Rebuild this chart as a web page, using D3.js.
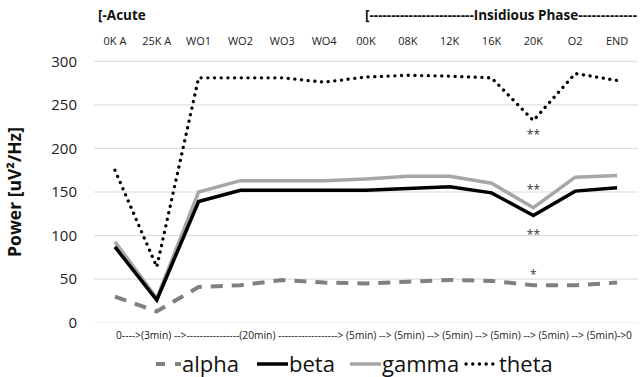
<!DOCTYPE html>
<html>
<head>
<meta charset="utf-8">
<script src="https://cdn.jsdelivr.net/npm/d3@7"></script>
<style>
  body { margin: 0; background: #fff; }
  svg { font-family: "Open Sans", "Noto Sans", sans-serif; }
</style>
</head>
<body>
<div id="chart"></div>
<script>
const categories = ['0K A', '25K A', 'WO1', 'WO2', 'WO3', 'WO4', '00K', '08K', '12K', '16K', '20K', 'O2', 'END'];
const alpha = [30, 13, 41, 43, 49, 46, 45, 47, 49, 48, 43, 43, 46];
const beta = [87, 26, 139, 152, 152, 152, 152, 154, 156, 149, 123, 151, 155];
const gamma = [93, 28, 150, 163, 163, 163, 165, 168, 168, 160, 132, 167, 169];
const theta = [175, 64, 281, 281, 281, 276, 282, 284, 283, 281, 232, 286, 278];
const yTicks = [0, 50, 100, 150, 200, 250, 300];
// significance marks at 20K: [value, text]
const marks = [[221, '**'], [157, '**'], [106, '**'], [60, '*']];

const width = 641;
const height = 377;

const svg = d3.select('#chart')
  .append('svg')
  .attr('width', width)
  .attr('height', height);

const x = d3.scaleBand().domain(categories).range([94, 638]);
const y = d3.scaleLinear().domain([0, 300]).range([322.7, 61.3]);
const cx = d => x(d) + x.bandwidth() / 2;

// grid lines
svg.selectAll('.grid')
  .data(yTicks)
  .enter()
  .append('line')
  .attr('x1', 94)
  .attr('x2', 638)
  .attr('y1', d => y(d))
  .attr('y2', d => y(d))
  .attr('stroke', d => d === 0 ? '#ececec' : '#d9d9d9')
  .attr('stroke-width', 1);

// y tick labels
svg.selectAll('.ytick')
  .data(yTicks)
  .enter()
  .append('text')
  .attr('x', 77)
  .attr('y', d => y(d))
  .attr('dy', '0.35em')
  .attr('text-anchor', 'end')
  .attr('font-size', 15)
  .attr('fill', '#222')
  .text(d => d);

// y axis title
svg.append('text')
  .attr('transform', 'translate(21,192) rotate(-90)')
  .attr('text-anchor', 'middle')
  .attr('font-size', 17.5)
  .attr('font-weight', 'bold')
  .attr('fill', '#111')
  .text('Power [uV²/Hz]');

// category labels at top
svg.selectAll('.cat')
  .data(categories)
  .enter()
  .append('text')
  .attr('x', d => cx(d))
  .attr('y', 45)
  .attr('text-anchor', 'middle')
  .attr('font-size', 11)
  .attr('fill', '#222')
  .text(d => d);

svg.append('text')
  .attr('x', 98)
  .attr('y', 20)
  .attr('font-size', 13.5)
  .attr('font-weight', 'bold')
  .attr('fill', '#111')
  .text('[-Acute');

const phase = svg.append('text')
  .attr('x', 365)
  .attr('y', 20)
  .attr('font-size', 13.5)
  .attr('font-weight', 'bold')
  .attr('fill', '#111')
  .text('[------------------------Insidious Phase');

// trailing dashes run to the right edge
const phaseEnd = 365 + phase.node().getComputedTextLength();
svg.append('text')
  .attr('x', phaseEnd)
  .attr('y', 20)
  .attr('font-size', 13.5)
  .attr('font-weight', 'bold')
  .attr('textLength', 637 - phaseEnd)
  .attr('lengthAdjust', 'spacing')
  .attr('fill', '#111')
  .text('-------------');

// time axis text at bottom
svg.append('text')
  .attr('x', 116)
  .attr('y', 339)
  .attr('font-size', 10.3)
  .attr('textLength', 516)
  .attr('lengthAdjust', 'spacingAndGlyphs')
  .attr('fill', '#222')
  .text('0---->(3min) -->----------------(20min) ------------------> (5min) --> (5min) --> (5min) --> (5min) --> (5min) --> (5min)->0');

const series = [
  { name: 'alpha', values: alpha, color: '#808080', width: 4, dash: '12 9', cap: 'butt' },
  { name: 'beta', values: beta, color: '#000', width: 3.5, dash: null, cap: 'butt' },
  { name: 'gamma', values: gamma, color: '#a6a6a6', width: 3.5, dash: null, cap: 'butt' },
  { name: 'theta', values: theta, color: '#000', width: 3.3, dash: '0.1 6.6', cap: 'round' }
];

const line = d3.line()
  .x((d, i) => cx(categories[i]))
  .y(d => y(d));

// draw gamma under beta so the black line sits on top
const drawOrder = [series[0], series[2], series[1], series[3]];
svg.selectAll('.series')
  .data(drawOrder)
  .enter()
  .append('path')
  .attr('d', d => line(d.values))
  .attr('fill', 'none')
  .attr('stroke', d => d.color)
  .attr('stroke-width', d => d.width)
  .attr('stroke-dasharray', d => d.dash)
  .attr('stroke-linecap', d => d.cap)
  .attr('stroke-linejoin', 'miter');

// significance stars at 20K
svg.selectAll('.mark')
  .data(marks)
  .enter()
  .append('text')
  .attr('x', cx('20K'))
  .attr('y', d => y(d[0]))
  .attr('dy', '0.7em')
  .attr('text-anchor', 'middle')
  .attr('font-size', 12)
  .attr('fill', '#333')
  .text(d => d[1]);

// legend
const legendItems = [
  { s: series[0], x: 156, len: 25 },
  { s: series[1], x: 257, len: 31 },
  { s: series[2], x: 350, len: 31 },
  { s: series[3], x: 466, len: 32 }
];
const lg = svg.selectAll('.legend')
  .data(legendItems)
  .enter()
  .append('g')
  .attr('transform', d => 'translate(' + d.x + ',364)');

lg.append('line')
  .attr('x1', 0)
  .attr('x2', d => d.len)
  .attr('y1', 0)
  .attr('y2', 0)
  .attr('stroke', d => d.s.color)
  .attr('stroke-width', d => d.s.width)
  .attr('stroke-dasharray', d => d.s.name === 'alpha' ? '9 10' : d.s.dash)
  .attr('stroke-linecap', d => d.s.cap);

lg.append('text')
  .attr('x', d => d.len + 1)
  .attr('y', 0)
  .attr('dy', '0.35em')
  .attr('font-size', 22)
  .attr('fill', '#111')
  .text(d => d.s.name);
</script>
</body>
</html>
